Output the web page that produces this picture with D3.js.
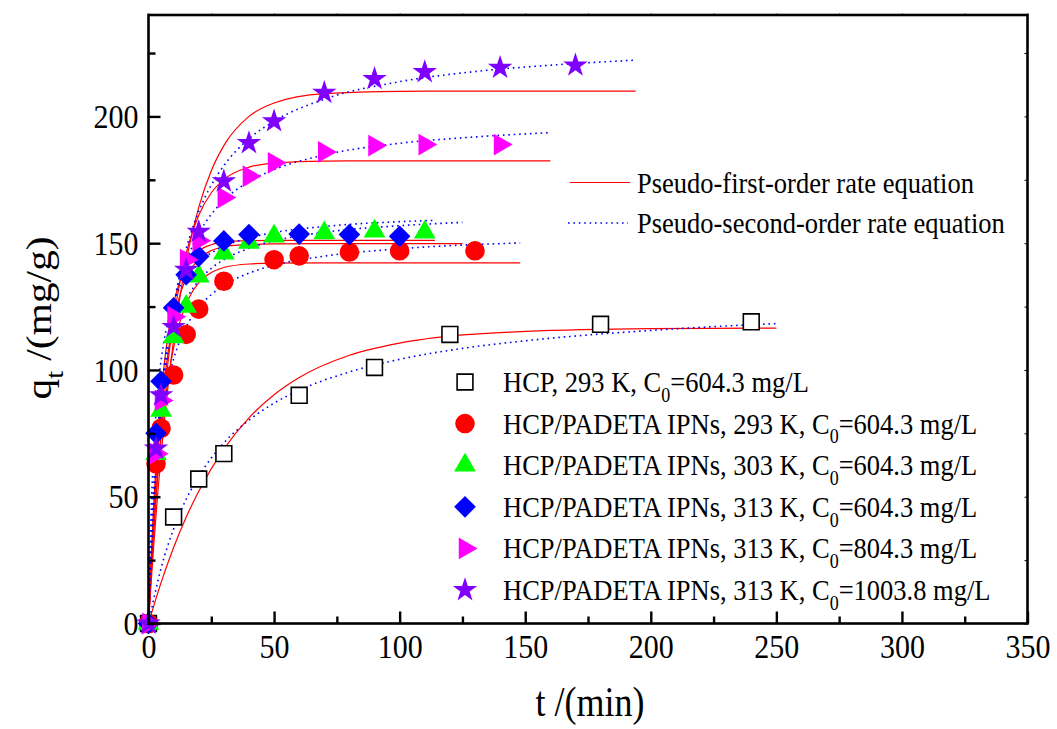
<!DOCTYPE html>
<html>
<head>
<meta charset="utf-8">
<script src="https://cdn.jsdelivr.net/npm/d3@7"></script>
<style>
  html, body { margin: 0; padding: 0; background: #fff; }
  svg { display: block; }
</style>
</head>
<body>
<svg id="chart" width="1057" height="729"></svg>
<script>
// ---- data ----
// tick labels
var xTicks = [0, 50, 100, 150, 200, 250, 300, 350];
var xMinor = [25, 75, 125, 175, 225, 275, 325];
var yTicks = [0, 50, 100, 150, 200];
var yMinor = [25, 75, 125, 175, 225];

// measured points, t (min) and qt (mg/g)
var hcpT = [0, 10, 20, 30, 60, 90, 120, 180, 240];
var hcpQ = [0, 42, 57, 67, 90, 101, 114, 118, 119];
var ipn293T = [0, 3, 5, 10, 15, 20, 30, 50, 60, 80, 100, 130];
var ipn293Q = [0, 63, 77, 98, 114, 124, 135, 143.5, 145, 146.5, 147, 147];
var ipn303T = [0, 3, 5, 10, 15, 20, 30, 40, 50, 70, 90, 110];
var ipn303Q = [0, 67, 84, 113, 125, 137, 146, 150.3, 152.7, 154, 154.7, 154.3];
var ipn313T = [0, 3, 5, 10, 15, 20, 30, 40, 60, 80, 100];
var ipn313Q = [0, 75, 95.5, 124.5, 137.6, 144.8, 150.9, 153.4, 153.6, 153.4, 152.7];
var ipn804T = [0, 3, 5, 10, 15, 20, 30, 40, 50, 70, 90, 110, 140];
var ipn804Q = [0, 67, 88, 121, 143.5, 151, 168, 176.4, 181.7, 186, 188.5, 188.9, 188.9];
var ipn1003T = [0, 3, 5, 10, 15, 20, 30, 40, 50, 70, 90, 110, 140, 170];
var ipn1003Q = [0, 69, 90, 117, 139.5, 154.5, 174.4, 189.5, 198.1, 209.3, 214.8, 217.5, 219.2, 220.1];

// fitted curves, points
var hcpFitT = [0, 5, 10, 15, 20, 30, 40, 50, 60, 80, 100, 125, 150, 200, 250];
var hcpPfo = [0, 16.1, 30.0, 41.9, 52.2, 68.8, 81.1, 90.2, 97.0, 105.8, 110.6, 113.8, 115.2, 116.3, 116.5];
var hcpPso = [0, 21.8, 37.3, 49.0, 58.0, 71.2, 80.2, 86.9, 92.0, 99.2, 104.2, 108.5, 111.5, 115.6, 118.3];

var ipn293FitT = [0, 1, 2, 3, 4, 6, 8, 10, 13, 16, 20, 25, 30, 40, 50, 70, 100, 148];
var ipn293Pfo = [0, 19.2, 35.8, 50.2, 62.6, 82.6, 97.6, 108.8, 120.6, 128.2, 134.4, 138.4, 140.4, 141.8, 142.1, 142.2, 142.2, 142.2];
var ipn293Pso = [0, 26.4, 45.2, 59.1, 69.9, 85.6, 96.4, 104.3, 112.8, 118.9, 124.7, 129.7, 133.4, 138.2, 141.3, 144.9, 147.8, 150.1];

var ipn303FitT = [0, 1, 2, 3, 4, 6, 8, 10, 13, 16, 20, 25, 30, 40, 50, 70, 100, 125];
var ipn303Pfo = [0, 22.2, 41.0, 57.1, 70.8, 92.4, 108.2, 119.6, 131.1, 138.2, 143.7, 147.1, 148.6, 149.5, 149.7, 149.8, 149.8, 149.8];
var ipn303Pso = [0, 31.5, 52.9, 68.3, 79.9, 96.3, 107.4, 115.3, 123.7, 129.6, 135.2, 140.1, 143.5, 148.0, 150.9, 154.3, 156.9, 158.2];

var ipn313FitT = [0, 1, 2, 3, 4, 6, 8, 10, 13, 16, 20, 25, 30, 40, 50, 70, 100, 114];
var ipn313Pfo = [0, 24.9, 45.7, 63.1, 77.5, 99.8, 115.3, 126.1, 136.5, 142.6, 147.0, 149.4, 150.4, 151.0, 151.1, 151.1, 151.1, 151.1];
var ipn313Pso = [0, 42.2, 67.0, 83.4, 95.0, 110.3, 120.0, 126.7, 133.6, 138.2, 142.6, 146.2, 148.8, 152.1, 154.2, 156.6, 158.5, 159.0];

var ipn804FitT = [0, 1, 2, 3, 4, 6, 8, 10, 13, 16, 20, 25, 30, 40, 50, 70, 100, 130, 160];
var ipn804Pfo = [0, 18.5, 35.2, 50.1, 63.5, 86.5, 105.0, 119.9, 137.1, 149.6, 161.0, 169.9, 175.1, 180.0, 181.6, 182.4, 182.5, 182.5, 182.5];
var ipn804Pso = [0, 28.2, 49.4, 66.0, 79.3, 99.4, 113.8, 124.6, 136.6, 145.3, 153.8, 161.4, 166.9, 174.3, 179.0, 184.8, 189.4, 191.9, 193.6];

var ipn1003FitT = [0, 1, 2, 3, 4, 6, 8, 10, 13, 16, 20, 25, 30, 40, 50, 70, 100, 130, 160, 194];
var ipn1003Pfo = [0, 15.4, 29.6, 42.8, 55.0, 76.9, 95.7, 111.8, 131.8, 147.8, 164.1, 178.6, 188.5, 200.0, 205.3, 209.0, 209.9, 210, 210, 210];
var ipn1003Pso = [0, 24.3, 44.0, 60.3, 74.0, 95.7, 112.2, 125.1, 140.0, 151.2, 162.5, 172.9, 180.6, 191.2, 198.1, 206.8, 213.7, 217.7, 220.2, 222.2];

// legend texts: [before subscript, subscript, after]
var seriesLabels = [
	["HCP, 293 K, C", "0", "=604.3 mg/L"],
	["HCP/PADETA IPNs, 293 K, C", "0", "=604.3 mg/L"],
	["HCP/PADETA IPNs, 303 K, C", "0", "=604.3 mg/L"],
	["HCP/PADETA IPNs, 313 K, C", "0", "=604.3 mg/L"],
	["HCP/PADETA IPNs, 313 K, C", "0", "=804.3 mg/L"],
	["HCP/PADETA IPNs, 313 K, C", "0", "=1003.8 mg/L"]
];
var fitLabels = ["Pseudo-first-order rate equation", "Pseudo-second-order rate equation"];

// ---- layout ----
var SERIF = "'Liberation Serif', 'Times New Roman', serif";
var STRETCH = 1.15; // the figure's text is a little taller than wide
// (no "top" here: window.top is read-only)
var plotL = 148.5, plotR = 1027.5, plotT = 15, plotB = 623.5;

var svg = d3.select("#chart");
var x = d3.scaleLinear().domain([0, 350]).range([plotL, plotR]);
var y = d3.scaleLinear().domain([0, 240]).range([plotB, plotT]);

// series table built from the arrays above
var series = [
	{ t: hcpT, q: hcpQ, fitT: hcpFitT, pfo: hcpPfo, pso: hcpPso, shape: d3.symbolSquare, size: 250, rot: 0, fill: "#fff", stroke: "#000" },
	{ t: ipn293T, q: ipn293Q, fitT: ipn293FitT, pfo: ipn293Pfo, pso: ipn293Pso, shape: d3.symbolCircle, size: 300, rot: 0, fill: "#ff0000" },
	{ t: ipn303T, q: ipn303Q, fitT: ipn303FitT, pfo: ipn303Pfo, pso: ipn303Pso, shape: d3.symbolTriangle, size: 205, rot: 0, fill: "#00ff00" },
	{ t: ipn313T, q: ipn313Q, fitT: ipn313FitT, pfo: ipn313Pfo, pso: ipn313Pso, shape: d3.symbolSquare, size: 235, rot: 45, fill: "#0000ff" },
	{ t: ipn804T, q: ipn804Q, fitT: ipn804FitT, pfo: ipn804Pfo, pso: ipn804Pso, shape: d3.symbolTriangle, size: 205, rot: 90, fill: "#ff00ff" },
	{ t: ipn1003T, q: ipn1003Q, fitT: ipn1003FitT, pfo: ipn1003Pfo, pso: ipn1003Pso, shape: d3.symbolStar, size: 185, rot: 0, fill: "#8000ff" }
];

function txt(g, px, py, size, anchor, rotate) {
	var tr = "translate(" + px + "," + py + ") scale(1," + STRETCH + ")" + (rotate ? " rotate(" + rotate + ")" : "");
	return g.append("text")
		.attr("transform", tr)
		.attr("font-family", SERIF)
		.attr("font-size", size)
		.attr("text-anchor", anchor || "start")
		.attr("fill", "#000");
}

// text with a subscript in the middle
function subText(t, before, sub, after, size) {
	t.append("tspan").text(before);
	t.append("tspan").attr("font-size", size * 0.68).attr("dy", size * 0.32).text(sub);
	if (after) t.append("tspan").attr("dy", -size * 0.32).text(after);
}

function marker(s) {
	return d3.symbol().type(s.shape).size(s.size)();
}

// ---- fit curves (under the markers) ----
var curves = svg.append("g");
series.forEach(function (s) {
	var pts = s.fitT.map(function (t, i) { return [t, s.pfo[i]]; });
	var pts2 = s.fitT.map(function (t, i) { return [t, s.pso[i]]; });
	var line = d3.line().x(function (d) { return x(d[0]); }).y(function (d) { return y(d[1]); }).curve(d3.curveMonotoneX);
	curves.append("path").attr("d", line(pts)).attr("fill", "none")
		.attr("stroke", "#ff0000").attr("stroke-width", 1.2);
	curves.append("path").attr("d", line(pts2)).attr("fill", "none")
		.attr("stroke", "#0000ff").attr("stroke-width", 1.6).attr("stroke-dasharray", "1.6,3.8");
});

// ---- markers ----
series.forEach(function (s) {
	var pts = s.t.map(function (t, i) { return [t, s.q[i]]; });
	svg.append("g").selectAll("path").data(pts).join("path")
		.attr("d", marker(s))
		.attr("transform", function (d) { return "translate(" + x(d[0]) + "," + y(d[1]) + ") rotate(" + s.rot + ")"; })
		.attr("fill", s.fill)
		.attr("stroke", s.stroke || "none")
		.attr("stroke-width", s.stroke ? 1.6 : 0);
});

// ---- axes ----
function styleAxis(g) {
	g.select(".domain").remove();
	g.selectAll("line").attr("stroke", "#000").attr("stroke-width", 2.4);
}

var gx = svg.append("g").attr("transform", "translate(0," + plotB + ")")
	.call(d3.axisBottom(x).tickValues(xTicks).tickSizeInner(-12).tickSizeOuter(0).tickPadding(9));
styleAxis(gx);
gx.selectAll("text").attr("font-family", SERIF).attr("font-size", 30).attr("fill", "#000")
	.attr("transform", "scale(1," + STRETCH + ")");
svg.append("g").attr("transform", "translate(0," + plotB + ")")
	.call(d3.axisBottom(x).tickValues(xMinor).tickSizeInner(-7).tickSizeOuter(0).tickFormat(""))
	.call(styleAxis);

var gy = svg.append("g").attr("transform", "translate(" + plotL + ",0)")
	.call(d3.axisLeft(y).tickValues(yTicks).tickSizeInner(-12).tickSizeOuter(0).tickPadding(10));
styleAxis(gy);
gy.selectAll("text").attr("font-family", SERIF).attr("font-size", 30).attr("fill", "#000")
	.attr("transform", "scale(1," + STRETCH + ")");
svg.append("g").attr("transform", "translate(" + plotL + ",0)")
	.call(d3.axisLeft(y).tickValues(yMinor).tickSizeInner(-7).tickSizeOuter(0).tickFormat(""))
	.call(styleAxis);

// tiny mirrored ticks on the right and top
svg.append("g").attr("transform", "translate(" + plotR + ",0)")
	.call(d3.axisRight(y).tickValues(yTicks.concat(yMinor)).tickSizeInner(-3).tickSizeOuter(0).tickFormat(""))
	.call(function (g) { g.select(".domain").remove(); g.selectAll("line").attr("stroke", "#000").attr("stroke-width", 1); });
svg.append("g").attr("transform", "translate(0," + plotT + ")")
	.call(d3.axisTop(x).tickValues(xTicks.concat(xMinor)).tickSizeInner(2).tickSizeOuter(0).tickFormat(""))
	.call(function (g) { g.select(".domain").remove(); g.selectAll("line").attr("stroke", "#888").attr("stroke-width", 1); });

// frame
svg.append("rect")
	.attr("x", plotL).attr("y", plotT)
	.attr("width", plotR - plotL).attr("height", plotB - plotT)
	.attr("fill", "none").attr("stroke", "#000").attr("stroke-width", 2.6);

// axis titles
var yt = txt(svg, 51, 318, 36, "middle", -90);
subText(yt, "q", "t", " /(mg/g)", 36);
txt(svg, 590, 716, 36, "middle").text("t /(min)");

// ---- legends ----
var leg = svg.append("g");
series.forEach(function (s, i) {
	var ry = 382 + i * 41.6;
	leg.append("path")
		.attr("d", marker(s))
		.attr("transform", "translate(465," + ry + ") rotate(" + s.rot + ")")
		.attr("fill", s.fill)
		.attr("stroke", s.stroke || "none")
		.attr("stroke-width", s.stroke ? 1.6 : 0);
	var lab = seriesLabels[i];
	subText(txt(leg, 503, ry + 10, 26.5), lab[0], lab[1], lab[2], 26.5);
});

var fitLeg = svg.append("g");
fitLeg.append("line").attr("x1", 570).attr("x2", 630).attr("y1", 182.5).attr("y2", 182.5)
	.attr("stroke", "#ff0000").attr("stroke-width", 1.2);
fitLeg.append("line").attr("x1", 568).attr("x2", 628).attr("y1", 223).attr("y2", 223)
	.attr("stroke", "#0000ff").attr("stroke-width", 1.6).attr("stroke-dasharray", "1.6,3.8");
txt(fitLeg, 637, 192.5, 26.5).text(fitLabels[0]);
txt(fitLeg, 637, 233, 26.5).text(fitLabels[1]);
</script>
</body>
</html>
